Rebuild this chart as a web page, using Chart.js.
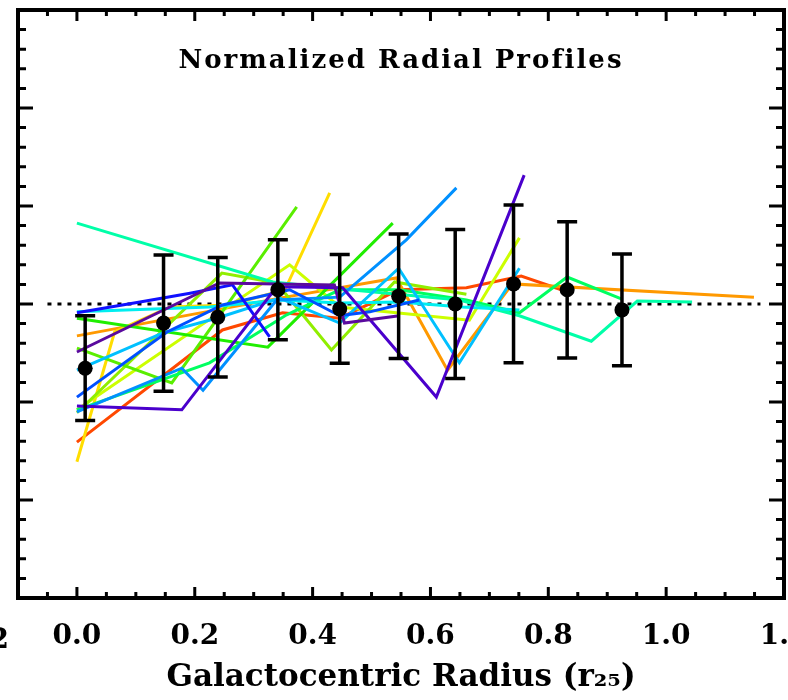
<!DOCTYPE html>
<html lang="en">
<head>
<meta charset="UTF-8">
<title>Normalized Radial Profiles</title>
<script src="https://cdn.jsdelivr.net/npm/chart.js"></script>
<style>
    html, body {
        margin: 0;
        padding: 0;
        background: #fff;
        overflow: hidden;
    }
    canvas {
        display: block;
    }
</style>
</head>
<body>
<canvas id="profiles" width="900" height="700"></canvas>
<script>
// binned mean of all profiles, with 1-sigma scatter
const binRadius = [0.014, 0.147, 0.239, 0.341, 0.446, 0.546, 0.642, 0.741, 0.832, 0.925];
const binMean   = [-0.131, -0.039, -0.027, 0.029, -0.010, 0.016, 0.000, 0.041, 0.029, -0.012];
const binSigma  = [0.107, 0.139, 0.122, 0.102, 0.111, 0.127, 0.152, 0.161, 0.139, 0.114];

// individual galaxy profiles: radius (r25) and normalized value
const r01 = [0, 0.242, 0.437, 0.454, 0.547];
const v01 = [-0.098, 0.043, 0.039, -0.039, -0.024];
const r02 = [0, 0.178, 0.339, 0.451, 0.610, 0.759];
const v02 = [-0.208, -0.216, 0.035, 0.033, -0.190, 0.263];
const r03 = [0, 0.107, 0.192, 0.264, 0.327];
const v03 = [-0.018, 0.004, 0.022, 0.039, -0.067];
const r04 = [0, 0.153, 0.247, 0.361, 0.446, 0.497, 0.581];
const v04 = [-0.190, -0.057, -0.002, 0.029, -0.024, -0.016, 0.008];
const r05 = [0, 0.178, 0.214, 0.339, 0.446, 0.559, 0.644];
const v05 = [-0.220, -0.131, -0.176, 0.008, 0.014, 0.131, 0.237];
const r06 = [0, 0.146, 0.237, 0.344, 0.446, 0.546, 0.649, 0.751];
const v06 = [-0.135, -0.059, -0.029, 0.012, -0.039, 0.073, -0.120, 0.073];
const r07 = [0, 0.225, 0.344, 0.446, 0.547, 0.654, 0.751];
const v07 = [-0.016, -0.006, 0.008, 0.002, 0.004, -0.006, -0.012];
const r08 = [0, 0.332, 0.463, 0.649, 0.751, 0.873, 0.951, 1.044];
const v08 = [0.165, 0.045, 0.029, 0.008, -0.024, -0.076, 0.006, 0.004];
const r09 = [0, 0.225, 0.356, 0.446, 0.547, 0.661, 0.751, 0.832, 0.925];
const v09 = [-0.216, -0.120, -0.022, 0.029, 0.029, 0.008, -0.018, 0.055, 0.010];
const r10 = [0, 0.324, 0.536];
const v10 = [-0.029, -0.088, 0.165];
const r11 = [0, 0.161, 0.373];
const v11 = [-0.090, -0.161, 0.198];
const r12 = [0, 0.246, 0.339, 0.432, 0.539, 0.661];
const v12 = [-0.222, 0.063, 0.043, -0.094, 0.045, 0.020];
const r13 = [0, 0.361, 0.446, 0.542, 0.666, 0.751];
const v13 = [-0.216, 0.080, -0.006, -0.018, -0.033, 0.135];
const r14 = [0, 0.064, 0.158, 0.259, 0.353, 0.429];
const v14 = [-0.322, -0.057, -0.006, -0.002, 0.029, 0.227];
const r15 = [0, 0.344, 0.542, 0.629, 0.739, 1.149];
const v15 = [-0.065, 0.012, 0.053, -0.135, 0.041, 0.014];
const r16 = [0, 0.247, 0.349, 0.446, 0.546, 0.661, 0.754, 0.827];
const v16 = [-0.282, -0.053, -0.018, -0.029, 0.029, 0.033, 0.057, 0.027];

// zero level and the span it is drawn over
const zeroLevel = 0;
const zeroSpan = [-0.05, 1.16];

const xTickValues = [0, 0.2, 0.4, 0.6, 0.8, 1.0, 1.2];

const profiles = [
    [r01, v01], [r02, v02], [r03, v03], [r04, v04], [r05, v05], [r06, v06],
    [r07, v07], [r08, v08], [r09, v09], [r10, v10], [r11, v11], [r12, v12],
    [r13, v13], [r14, v14], [r15, v15], [r16, v16]
];
// rainbow, ordered like the profiles above
const profileColors = [
    '#5a0a9e', '#4a00cc', '#1010ff', '#0050ff', '#0090ff', '#00c0ff',
    '#00eef0', '#00ffa8', '#00ff60', '#20ee00', '#5aee00', '#90ee00',
    '#ccff00', '#ffdd00', '#ff9900', '#ff4800'
];

const serif = "'DejaVu Serif', 'Liberation Serif', serif";

const pairs = (xs, ys) => xs.map((x, i) => ({ x: x, y: ys[i] }));

const datasets = [];

datasets.push({
    data: pairs(binRadius, binMean),
    showLine: false,
    pointRadius: 7.5,
    pointBackgroundColor: '#000',
    pointBorderWidth: 0,
    order: 0
});

profiles.forEach((p, i) => {
    datasets.push({
        data: pairs(p[0], p[1]),
        borderColor: profileColors[i],
        borderWidth: 3,
        pointRadius: 0,
        tension: 0,
        order: 1
    });
});

datasets.push({
    data: zeroSpan.map(x => ({ x: x, y: zeroLevel })),
    borderColor: '#000',
    borderWidth: 3,
    borderDash: [4, 6],
    pointRadius: 0,
    order: 2
});

// frame with inward IDL-style ticks, error bars, in-plot title
const framePlugin = {
    id: 'frame',
    afterDatasetsDraw(chart) {
        const ctx = chart.ctx;
        const xs = chart.scales.x, ys = chart.scales.y;
        ctx.save();
        ctx.strokeStyle = '#000';
        ctx.lineWidth = 3.5;
        binRadius.forEach((r, i) => {
            const px = xs.getPixelForValue(r);
            const top = ys.getPixelForValue(binMean[i] + binSigma[i]);
            const bot = ys.getPixelForValue(binMean[i] - binSigma[i]);
            ctx.beginPath();
            ctx.moveTo(px, top);
            ctx.lineTo(px, bot);
            ctx.moveTo(px - 10, top);
            ctx.lineTo(px + 10, top);
            ctx.moveTo(px - 10, bot);
            ctx.lineTo(px + 10, bot);
            ctx.stroke();
        });
        ctx.restore();
    },
    afterDraw(chart) {
        const ctx = chart.ctx;
        const a = chart.chartArea;
        const xs = chart.scales.x, ys = chart.scales.y;
        ctx.save();
        ctx.strokeStyle = '#000';
        ctx.lineWidth = 3;
        ctx.beginPath();
        for (let i = -2; i <= 24; i++) {
            const px = xs.getPixelForValue(i * 0.05);
            const len = (i % 4 === 0) ? 11 : 6;
            ctx.moveTo(px, a.bottom);
            ctx.lineTo(px, a.bottom - len);
            ctx.moveTo(px, a.top);
            ctx.lineTo(px, a.top + len);
        }
        for (let i = -15; i <= 15; i++) {
            const py = ys.getPixelForValue(i * 0.04);
            const len = (i % 5 === 0) ? 15 : 8;
            ctx.moveTo(a.left, py);
            ctx.lineTo(a.left + len, py);
            ctx.moveTo(a.right, py);
            ctx.lineTo(a.right - len, py);
        }
        ctx.stroke();
        ctx.lineWidth = 4;
        ctx.strokeRect(a.left, a.top, a.right - a.left, a.bottom - a.top);

        ctx.fillStyle = '#000';
        ctx.font = 'bold 26px ' + serif;
        ctx.letterSpacing = '2px';
        ctx.textAlign = 'center';
        ctx.textBaseline = 'alphabetic';
        ctx.fillText('Normalized Radial Profiles', (a.left + a.right) / 2, a.top + 58);
        ctx.letterSpacing = '0px';

        // last label of the neighbouring panel's axis
        ctx.font = 'bold 28px ' + serif;
        ctx.textAlign = 'right';
        ctx.fillText('1.2', 9, 648);
        ctx.restore();
    }
};

new Chart(document.getElementById('profiles'), {
    type: 'line',
    data: { datasets: datasets },
    plugins: [framePlugin],
    options: {
        responsive: false,
        animation: false,
        devicePixelRatio: 1,
        layout: { padding: { left: 18, top: 10, right: 116, bottom: 2 } },
        plugins: {
            legend: { display: false },
            tooltip: { enabled: false }
        },
        scales: {
            x: {
                type: 'linear',
                min: -0.1,
                max: 1.2,
                afterBuildTicks: axis => {
                    axis.ticks = xTickValues.map(v => ({ value: v }));
                },
                afterFit: scale => { scale.height = 100; },
                grid: { display: false, drawTicks: false },
                border: { display: false },
                ticks: {
                    color: '#000',
                    font: { family: serif, size: 28, weight: 'bold' },
                    padding: 22,
                    maxRotation: 0,
                    autoSkip: false,
                    callback: v => v.toFixed(1)
                },
                title: {
                    display: true,
                    text: 'Galactocentric Radius (r\u2082\u2085)',
                    color: '#000',
                    font: { family: serif, size: 31, weight: 'bold' },
                    padding: { top: 0, bottom: 1 }
                }
            },
            y: {
                type: 'linear',
                display: false,
                min: -0.6,
                max: 0.6
            }
        }
    }
});
</script>
</body>
</html>
